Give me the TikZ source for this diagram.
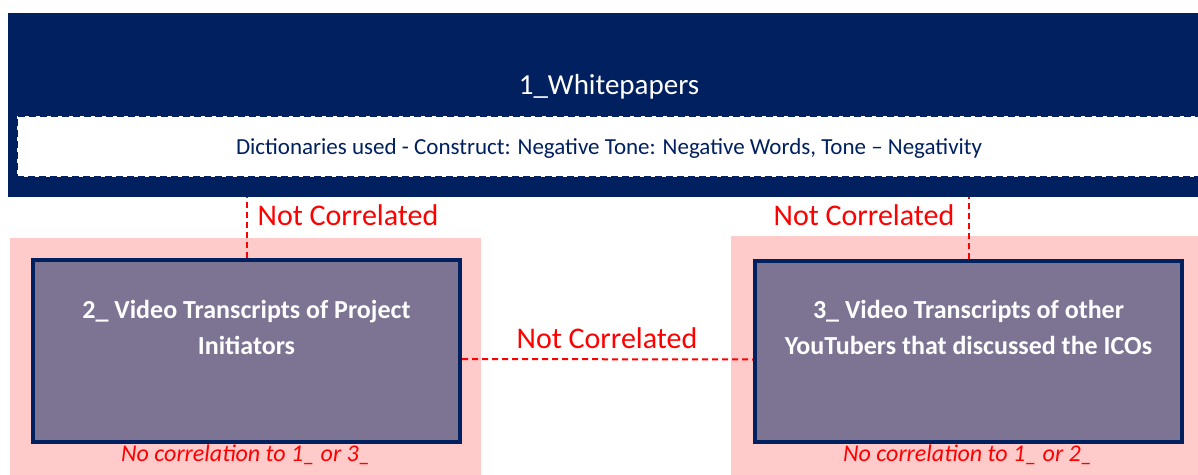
\documentclass[tikz,border=0pt]{standalone}
\usepackage{fontspec}
\setmainfont{Carlito}
\definecolor{navy}{HTML}{002060}
\definecolor{blush}{HTML}{FFCACA}
\definecolor{slate}{HTML}{7D7493}
\definecolor{alert}{HTML}{FF0000}
\tikzset{
  panel/.style={draw=navy, line width=4pt, fill=slate, inner sep=0pt},
  halo/.style={fill=blush, draw=none},
  link/.style={draw=alert, line width=2pt, dash pattern=on 6pt off 4pt},
  linklabel/.style={text=alert, font=\fontsize{30}{36}\selectfont, inner sep=0pt},
  boxtext/.style={text=white, font=\bfseries\fontsize{26}{36}\selectfont, align=center, inner sep=0pt},
  note/.style={text=alert, font=\itshape\fontsize{24}{28}\selectfont, inner sep=0pt}
}
\begin{document}
\begin{tikzpicture}[x=1pt, y=-1pt]
\useasboundingbox (0,0) rectangle (1198,474);
\clip (0,0) rectangle (1198,474);

% header band with the dictionary strip
\node[fill=navy, inner sep=0pt, minimum width=1200pt, minimum height=184pt, anchor=north west] (top) at (8,13) {};
\node[text=white, font=\fontsize{29}{34}\selectfont, inner sep=0pt] (title) at (609,87) {1\_Whitepapers};
\node[fill=white, draw=navy, line width=2pt, dash pattern=on 7pt off 4pt, inner sep=0pt,
      minimum width=1200pt, minimum height=61pt, anchor=north west] (dict) at (16,115) {};
\node[text=navy, font=\fontsize{23}{27}\selectfont, inner sep=0pt] (dicttext) at (609,148)
  {Dictionaries used - Construct: Negative Tone: Negative Words, Tone -- Negativity};

% pink backgrounds
\fill[halo] (10,238) rectangle (481,480);
\fill[halo] (731,236) rectangle (1205,480);

% the two transcript boxes
\node[panel, minimum width=427pt, minimum height=182pt] (b2) at (246.5,351) {};
\node[panel, minimum width=427pt, minimum height=181pt] (b3) at (968.5,351.5) {};
\node[boxtext] (t2) at (246.5,327) {2\_ Video Transcripts of Project\\Initiators};
\node[boxtext] (t3) at (968.5,327) {3\_ Video Transcripts of other\\YouTubers that discussed the ICOs};
\node[note] (n2) at (246,455) {No correlation to 1\_ or 3\_};
\node[note] (n3) at (968,455) {No correlation to 1\_ or 2\_};

% correlation links
\draw[link] (b2.north) -- (b2.north |- top.south);
\draw[link] (b3.north) -- (b3.north |- top.south);
\draw[link] ([yshift=-8pt]b2.east) -- ([yshift=-8pt]b3.west);
\node[linklabel] (l1) at (348,215) {Not Correlated};
\node[linklabel] (l2) at (864,215) {Not Correlated};
\node[linklabel] (l3) at (607,338) {Not Correlated};
\end{tikzpicture}
\end{document}
